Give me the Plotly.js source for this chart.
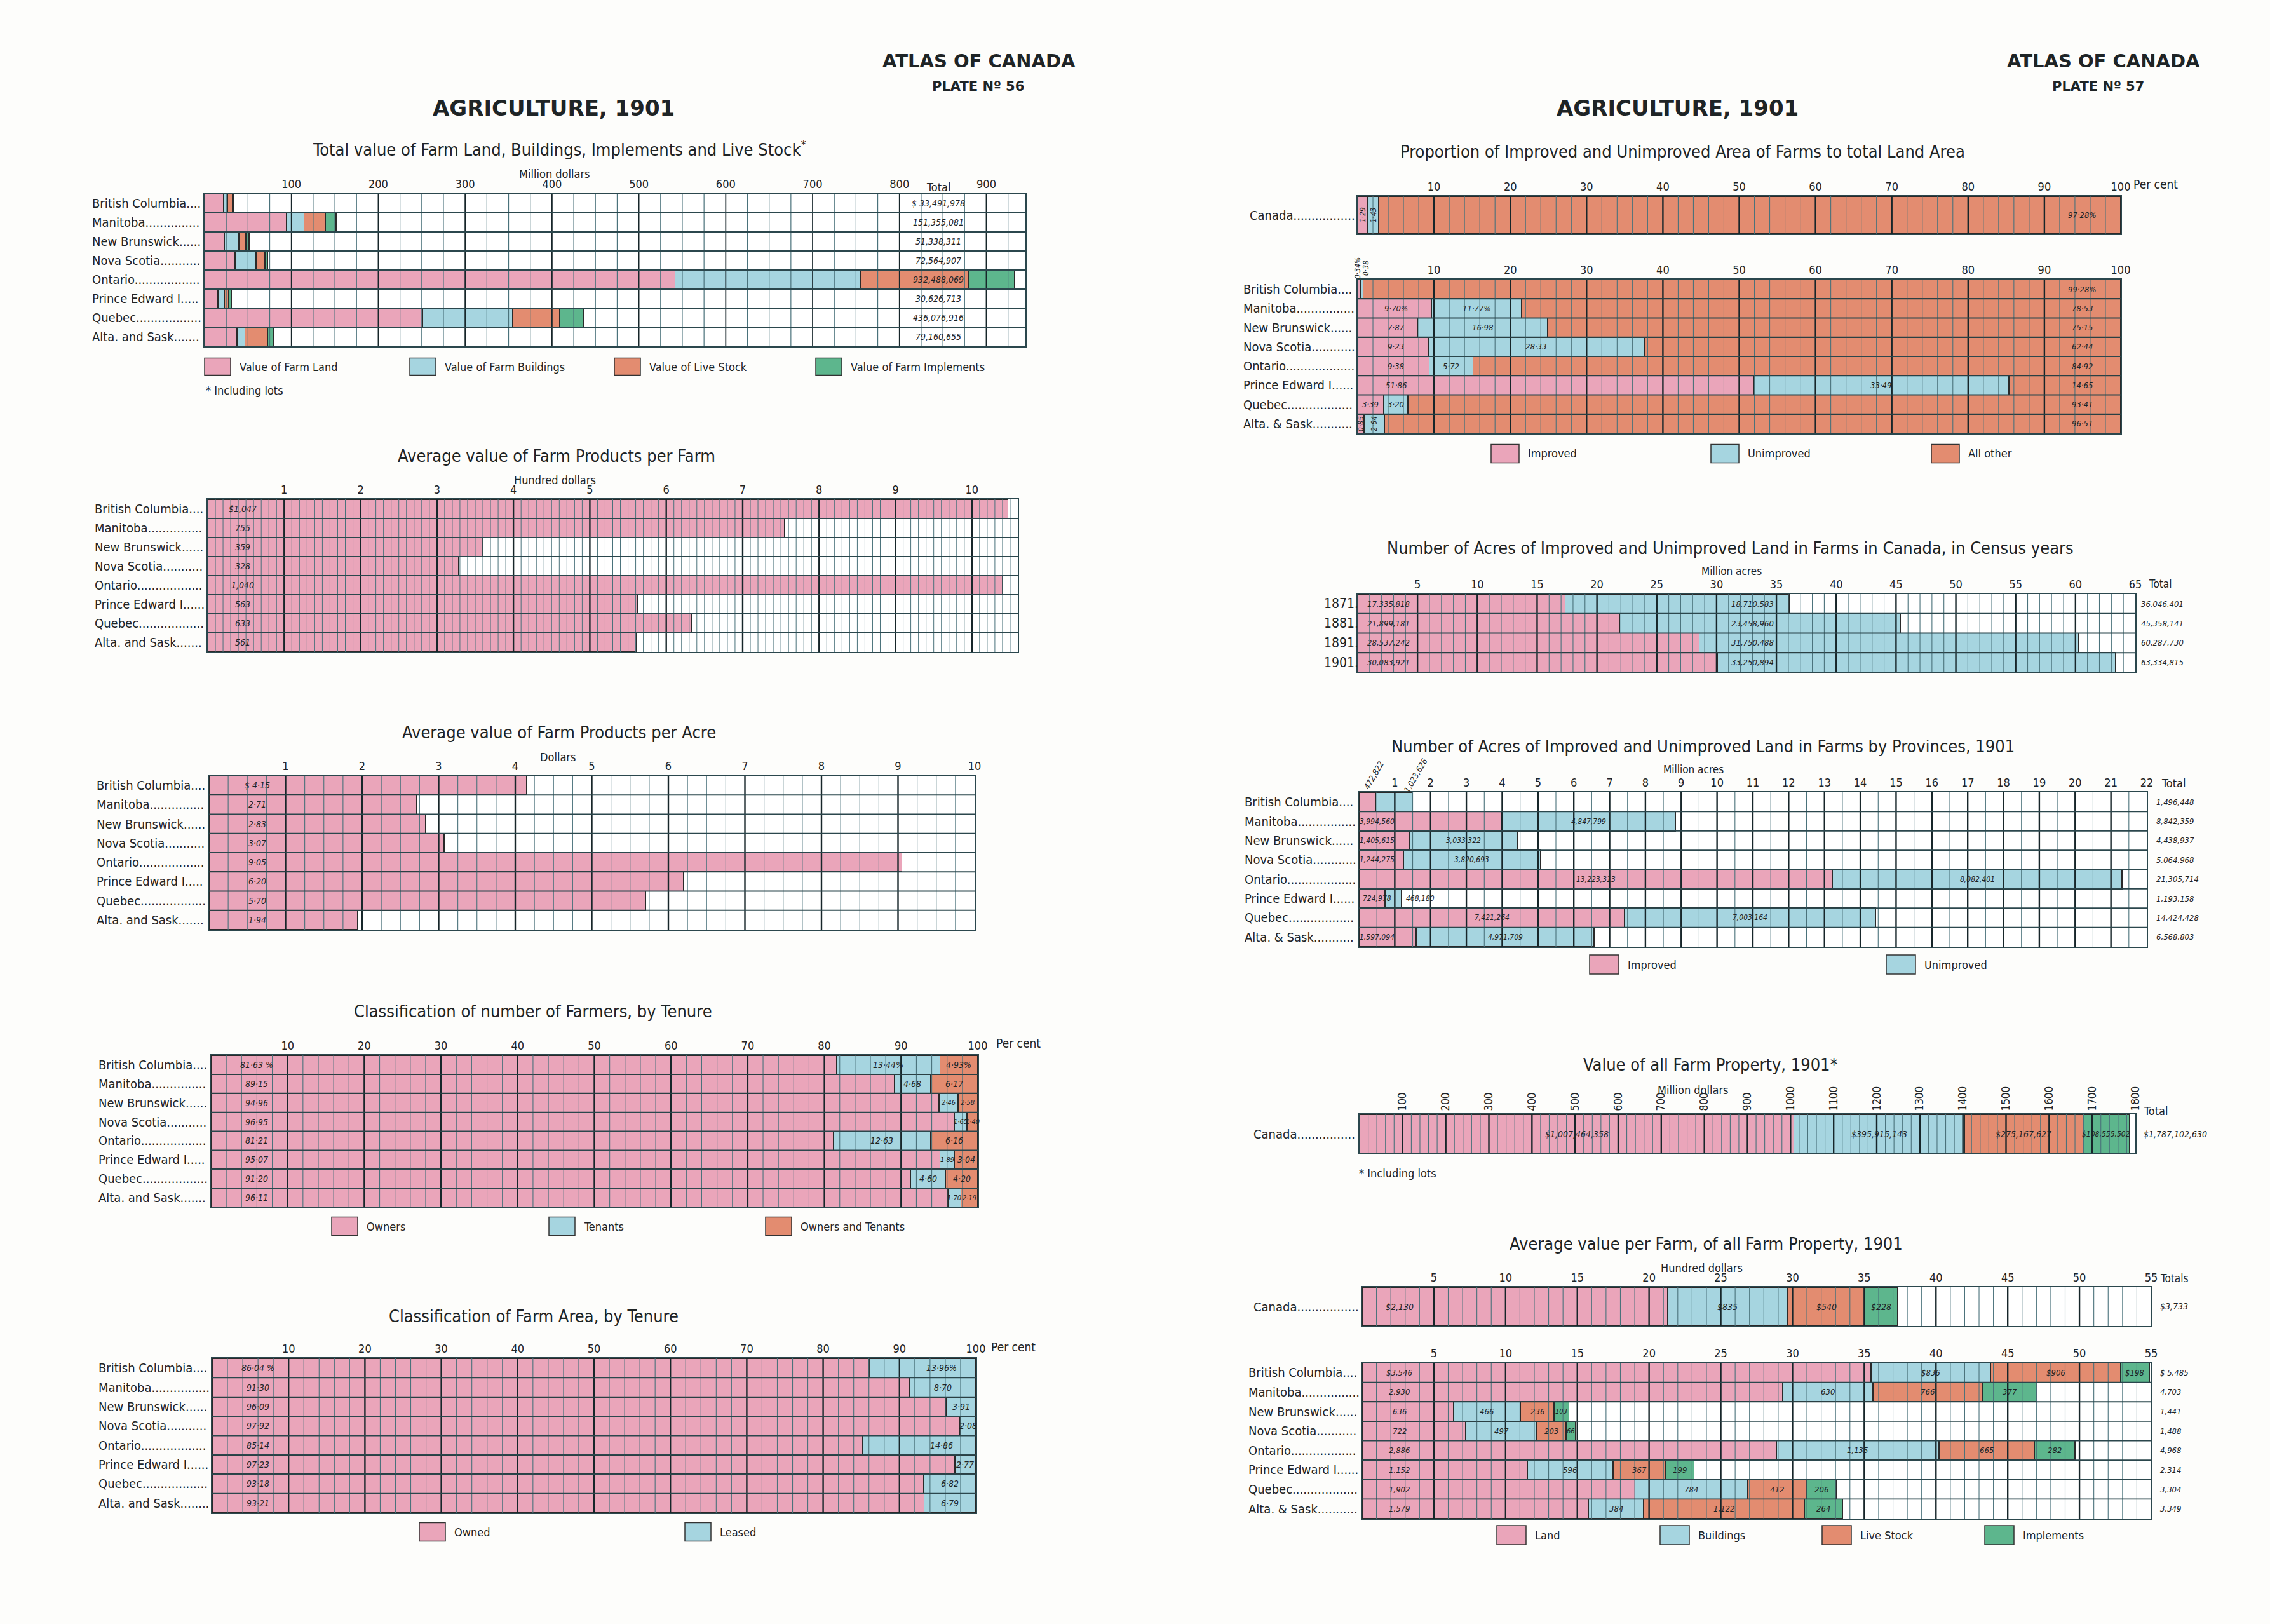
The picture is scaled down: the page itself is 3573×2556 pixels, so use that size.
<!DOCTYPE html>
<html><head><meta charset="utf-8">
<script src="https://cdn.plot.ly/plotly-3.0.1.min.js"></script>
<style>html,body{margin:0;padding:0;background:#fdfdfb;}#chart{width:3573px;height:2556px;}</style>
</head><body><div id="chart"></div>
<script>
// ================= DATA =================
const provincesL = ["British Columbia","Manitoba","New Brunswick","Nova Scotia","Ontario","Prince Edward I.","Quebec","Alta. and Sask."];
const provincesR = ["British Columbia","Manitoba","New Brunswick","Nova Scotia","Ontario","Prince Edward I.","Quebec","Alta. & Sask."];

// Total value of farm land, buildings, implements, live stock (million dollars)
const farmLandValue      = [21.6, 94.3, 22.7, 35.2, 541.7, 15.2, 251.0, 37.3];
const farmBuildingsValue = [5.1, 20.3, 16.6, 24.2, 213.0, 7.9, 103.5, 9.1];
const liveStockValue     = [5.5, 24.7, 8.4, 9.9, 124.8, 4.9, 54.4, 26.5];
const implementsValue    = [1.3, 12.1, 3.7, 3.2, 52.9, 2.6, 27.2, 6.2];
const totalFarmValue     = [33491978, 151355081, 51338311, 72564907, 932488069, 30626713, 436076916, 79160655];

// Average value of farm products (dollars)
const productsPerFarm = [1047, 755, 359, 328, 1040, 563, 633, 561];
const productsPerAcre = [4.15, 2.71, 2.83, 3.07, 9.05, 6.20, 5.70, 1.94];

// Tenure of farmers (per cent)
const farmersOwners        = [81.63, 89.15, 94.96, 96.95, 81.21, 95.07, 91.20, 96.11];
const farmersTenants       = [13.44, 4.68, 2.46, 1.65, 12.63, 1.89, 4.60, 1.70];
const farmersOwnersTenants = [4.93, 6.17, 2.58, 1.40, 6.16, 3.04, 4.20, 2.19];

// Tenure of farm area (per cent)
const areaOwned  = [86.04, 91.30, 96.09, 97.92, 85.14, 97.23, 93.18, 93.21];
const areaLeased = [13.96, 8.70, 3.91, 2.08, 14.86, 2.77, 6.82, 6.79];

// Proportion of improved / unimproved area to total land area (per cent)
const canadaProportion = [1.29, 1.43, 97.28];
const provImprovedPct   = [0.34, 9.70, 7.87, 9.23, 9.38, 51.86, 3.39, 0.85];
const provUnimprovedPct = [0.38, 11.77, 16.98, 28.33, 5.72, 33.49, 3.20, 2.64];
const provAllOtherPct   = [99.28, 78.53, 75.15, 62.44, 84.92, 14.65, 93.41, 96.51];

// Acres in census years
const censusYears = ["1871","1881","1891","1901"];
const censusImproved   = [17335818, 21899181, 28537242, 30083921];
const censusUnimproved = [18710583, 23458960, 31750488, 33250894];
const censusTotal      = [36046401, 45358141, 60287730, 63334815];

// Acres by provinces, 1901
const provImprovedAcres   = [472822, 3994560, 1405615, 1244275, 13223313, 724978, 7421264, 1597094];
const provUnimprovedAcres = [1023626, 4847799, 3033322, 3820693, 8082401, 468180, 7003164, 4971709];
const provTotalAcres      = [1496448, 8842359, 4438937, 5064968, 21305714, 1193158, 14424428, 6568803];

// Value of all farm property, Canada 1901 (dollars): land, buildings, live stock, implements
const canadaPropertyValue = [1007464358, 395915143, 275167627, 108555502];
const canadaPropertyTotal = 1787102630;

// Average value per farm (dollars)
const canadaAvgPerFarm = [2130, 835, 540, 228];
const canadaAvgTotal = 3733;
const avgLand       = [3546, 2930, 636, 722, 2886, 1152, 1902, 1579];
const avgBuildings  = [836, 630, 466, 497, 1135, 596, 784, 384];
const avgLiveStock  = [906, 766, 236, 203, 665, 367, 412, 1122];
const avgImplements = [198, 377, 103, 66, 282, 199, 206, 264];
const avgTotals     = [5485, 4703, 1441, 1488, 4968, 2314, 3304, 3349];

// ================= STYLE / HELPERS =================
const W = 3573, H = 2556;
const FONT = "'Liberation Sans Narrow','DejaVu Sans Condensed','Roboto Condensed','Liberation Sans',Arial,sans-serif";
const HEAD = "'DejaVu Sans','Liberation Sans',sans-serif";
const INK = '#1e2426';
const C = {pink:'#eaa5ba', blue:'#a6d5e0', orange:'#e38c70', green:'#5db68d'};
const GRID_MINOR = '#4a727b', GRID_MAJOR = '#17262a', ROWLINE = '#2b474d';

const data = [], annotations = [], shapes = [];
const layout = {width:W, height:H, margin:{l:0,r:0,t:0,b:0}, paper_bgcolor:'#fdfdfb', plot_bgcolor:'#ffffff',
  barmode:'stack', bargap:0, showlegend:false, font:{family:FONT,color:INK}, annotations, shapes};

const ctx = document.createElement('canvas').getContext('2d');
function measure(t, size){ ctx.font = size + 'px ' + FONT; return ctx.measureText(t).width; }
const fmt = v => Math.round(v).toLocaleString('en-US');
const dec = v => v.toFixed(2).replace('.', '·');

let axCount = 0;
function panel(cfg){
  axCount++;
  const s = axCount === 1 ? '' : String(axCount);
  layout['xaxis'+s] = {domain:[cfg.x0/W, cfg.x1/W], anchor:'y'+s, range:[0,cfg.range], side:'top',
    tickmode:'array', tickvals:cfg.tickvals, ticktext:cfg.tickvals.map(String), showgrid:false, zeroline:false,
    showline:true, mirror:true, linecolor:ROWLINE, linewidth:2, ticks:'', tickangle:cfg.tickangle||0,
    tickfont:{family:FONT, size:cfg.tickSize||18, color:INK}, fixedrange:true};
  layout['yaxis'+s] = {domain:[1-cfg.y1/H, 1-cfg.y0/H], anchor:'x'+s, range:[cfg.nrows-0.5,-0.5],
    showticklabels:false, showgrid:false, zeroline:false, showline:true, mirror:true, linecolor:ROWLINE,
    linewidth:2, fixedrange:true};
  const p = Object.assign({s, xa:'x'+s, ya:'y'+s}, cfg);
  grid(p);
  return p;
}
function grid(p){
  const n = Math.round(p.range / p.minor);
  const mx=[],my=[],Mx=[],My=[],rx=[],ry=[];
  for (let k=1; k<=n; k++){
    const v = +(k*p.minor).toFixed(6);
    if (v >= p.range - 1e-9) break;
    const r = v / p.major;
    const major = Math.abs(r - Math.round(r)) < 1e-6;
    (major?Mx:mx).push(v,v,null); (major?My:my).push(-0.5,p.nrows-0.5,null);
  }
  for (let k=1; k<p.nrows; k++){ rx.push(0,p.range,null); ry.push(k-0.5,k-0.5,null); }
  const base = {type:'scatter', mode:'lines', xaxis:p.xa, yaxis:p.ya, hoverinfo:'skip', showlegend:false, connectgaps:false};
  data.push(Object.assign({x:mx, y:my, line:{color:GRID_MINOR, width:p.minorW||1.1}}, base));
  data.push(Object.assign({x:Mx, y:My, line:{color:GRID_MAJOR, width:p.majorW||2.4}}, base));
  data.push(Object.assign({x:rx, y:ry, line:{color:ROWLINE, width:1.8}}, base));
}
function bars(p, values, color, scale){
  scale = scale || 1;
  data.push({type:'bar', orientation:'h', x:values.map(v=>v*scale), y:values.map((_,i)=>i),
    xaxis:p.xa, yaxis:p.ya, width:1, marker:{color, line:{color:'#2a2a2a', width:1.6}},
    hoverinfo:'skip', showlegend:false});
}
function pA(text, x, y, o){
  o = o || {};
  const font = Object.assign({family:FONT, size:20, color:INK}, o.font||{});
  annotations.push(Object.assign({xref:'paper', yref:'paper', x:x/W, y:1-y/H, text, showarrow:false,
    xanchor:'center', yanchor:'middle'}, o, {font}));
}
function dA(p, text, x, y, o){
  o = o || {};
  const font = Object.assign({family:FONT, size:15, color:INK, style:'italic'}, o.font||{});
  annotations.push(Object.assign({xref:p.xa, yref:p.ya, x, y, text, showarrow:false,
    xanchor:'center', yanchor:'middle'}, o, {font}));
}
function leaders(p, names, leftPx, size){
  size = size || 20;
  names.forEach((nm,i)=>{
    const w = measure(nm, size), dw = measure('.', size);
    const n = Math.max(1, Math.floor((p.x0 - 6 - leftPx - w) / dw));
    annotations.push({xref:'paper', yref:p.ya, x:leftPx/W, y:i, xanchor:'left', yanchor:'middle',
      text:nm + '.'.repeat(n), showarrow:false, font:{family:FONT, size, color:INK}});
  });
}
function legendItem(x0, yc, color, label, bw, bh){
  bw = bw || 42; bh = bh || 28;
  shapes.push({type:'rect', xref:'paper', yref:'paper', x0:x0/W, x1:(x0+bw)/W, y0:1-(yc+bh/2)/H, y1:1-(yc-bh/2)/H,
    fillcolor:color, line:{color:'#333', width:1.5}});
  pA(label, x0+bw+12, yc, {xanchor:'left', font:{size:18}});
}
const range = (a,b,st) => { const r=[]; for(let v=a; v<=b+1e-9; v+=st) r.push(+v.toFixed(6)); return r; };
function title(t, x, y){ pA(t, x, y, {font:{size:27}}); }

// ================= HEADERS =================
pA('<b>ATLAS OF CANADA</b>', 1541, 96, {font:{family:HEAD, size:29}});
pA('<b>PLATE Nº 56</b>', 1539, 136, {font:{family:HEAD, size:21}});
pA('<b>AGRICULTURE, 1901</b>', 871, 170, {font:{family:HEAD, size:34}});
pA('<b>ATLAS OF CANADA</b>', 3311, 96, {font:{family:HEAD, size:29}});
pA('<b>PLATE Nº 57</b>', 3302, 136, {font:{family:HEAD, size:21}});
pA('<b>AGRICULTURE, 1901</b>', 2640, 170, {font:{family:HEAD, size:34}});

// ================= P1: Total value =================
{
  const p = panel({x0:322, x1:1614, y0:305, y1:545, range:945, nrows:8, tickvals:range(100,900,100), minor:25, major:100, majorW:1.8, minorW:1.2});
  bars(p, farmLandValue, C.pink); bars(p, farmBuildingsValue, C.blue); bars(p, liveStockValue, C.orange); bars(p, implementsValue, C.green);
  title('Total value of Farm Land, Buildings, Implements and Live Stock<sup>*</sup>', 880, 233);
  pA('Million dollars', 873, 273, {font:{size:18}});
  pA('Total', 1477, 294, {font:{size:18}});
  totalFarmValue.forEach((v,i)=> dA(p, (i===0?'$ ':'') + fmt(v), 845, i, {font:{size:14}}));
  leaders(p, provincesL, 143);
  legendItem(322, 577, C.pink, 'Value of Farm Land', 41, 27);
  legendItem(645, 577, C.blue, 'Value of Farm Buildings', 41, 27);
  legendItem(967, 577, C.orange, 'Value of Live Stock', 41, 27);
  legendItem(1284, 577, C.green, 'Value of Farm Implements', 41, 27);
  pA('* Including lots', 322, 614, {xanchor:'left', font:{size:18}});
}

// ================= P2: per farm =================
{
  const p = panel({x0:327, x1:1602, y0:786, y1:1026, range:10.6, nrows:8, tickvals:range(1,10,1), minor:0.1, major:1, minorW:1});
  bars(p, productsPerFarm, C.pink, 0.01);
  title('Average value of Farm Products per Farm', 876, 717);
  pA('Hundred dollars', 873, 755, {font:{size:18}});
  productsPerFarm.forEach((v,i)=> dA(p, (i===0?'$':'') + fmt(v), 0.46, i, {font:{size:14}}));
  leaders(p, provincesL, 147);
}

// ================= P3: per acre =================
{
  const p = panel({x0:329, x1:1534, y0:1221, y1:1463, range:10, nrows:8, tickvals:range(1,10,1), minor:0.25, major:1});
  bars(p, productsPerAcre, C.pink);
  title('Average value of Farm Products per Acre', 880, 1152);
  pA('Dollars', 878, 1191, {font:{size:18}});
  productsPerAcre.forEach((v,i)=> dA(p, (i===0?'$ ':'') + dec(v), 0.63, i, {font:{size:14}}));
  leaders(p, provincesL, 150);
}

// ================= P4: farmers by tenure =================
{
  const p = panel({x0:332, x1:1539, y0:1661, y1:1900, range:100, nrows:8, tickvals:range(10,100,10), minor:2, major:10});
  bars(p, farmersOwners, C.pink); bars(p, farmersTenants, C.blue); bars(p, farmersOwnersTenants, C.orange);
  title('Classification of number of Farmers, by Tenure', 839, 1591);
  pA('Per cent', 1566, 1642, {xanchor:'left', font:{size:19}});
  farmersOwners.forEach((v,i)=> dA(p, dec(v) + (i===0?' %':''), 6, i, {font:{size:14}}));
  farmersTenants.forEach((v,i)=> dA(p, dec(v) + (i===0?'%':''), farmersOwners[i] + v/2, i, {font:{size: v<3?11:14}}));
  farmersOwnersTenants.forEach((v,i)=> dA(p, dec(v) + (i===0?'%':''), farmersOwners[i] + farmersTenants[i] + v/2, i, {font:{size: v<3?11:14}}));
  leaders(p, provincesL, 153);
  legendItem(522, 1930, C.pink, 'Owners', 41, 29);
  legendItem(864, 1930, C.blue, 'Tenants', 41, 29);
  legendItem(1205, 1930, C.orange, 'Owners and Tenants', 41, 29);
}

// ================= P5: farm area by tenure =================
{
  const p = panel({x0:334, x1:1536, y0:2138, y1:2381, range:100, nrows:8, tickvals:range(10,100,10), minor:2, major:10});
  bars(p, areaOwned, C.pink); bars(p, areaLeased, C.blue);
  title('Classification of Farm Area, by Tenure', 840, 2071);
  pA('Per cent', 1558, 2120, {xanchor:'left', font:{size:19}});
  areaOwned.forEach((v,i)=> dA(p, dec(v) + (i===0?' %':''), 6, i, {font:{size:14}}));
  areaLeased.forEach((v,i)=> dA(p, dec(v) + (i===0?'%':''), Math.max(areaOwned[i] + v/2, 95.5), i, {font:{size:14}}));
  leaders(p, provincesL, 153);
  legendItem(660, 2411, C.pink, 'Owned', 41, 29);
  legendItem(1078, 2411, C.blue, 'Leased', 41, 29);
}

// ================= P6: proportion =================
{
  const pa = panel({x0:2137, x1:3338, y0:309, y1:368, range:100, nrows:1, tickvals:range(10,100,10), minor:2, major:10});
  bars(pa, [canadaProportion[0]], C.pink); bars(pa, [canadaProportion[1]], C.blue); bars(pa, [canadaProportion[2]], C.orange);
  title('Proportion of Improved and Unimproved Area of Farms to total Land Area', 2648, 238);
  pA('Per cent', 3356, 290, {xanchor:'left', font:{size:19}});
  dA(pa, dec(canadaProportion[0]), canadaProportion[0]/2, 0, {textangle:-90, font:{size:12}});
  dA(pa, dec(canadaProportion[1]), canadaProportion[0] + canadaProportion[1]/2, 0, {textangle:-90, font:{size:12}});
  dA(pa, dec(canadaProportion[2]) + '%', 95, 0, {font:{size:13}});
  leaders(pa, ['Canada'], 1965);

  const p = panel({x0:2137, x1:3338, y0:440, y1:682, range:100, nrows:8, tickvals:range(10,100,10), minor:2, major:10});
  bars(p, provImprovedPct, C.pink); bars(p, provUnimprovedPct, C.blue); bars(p, provAllOtherPct, C.orange);
  provImprovedPct.forEach((v,i)=>{
    const u = provUnimprovedPct[i];
    if (i === 0){
      pA(dec(v)+'%', 2137, 422, {textangle:-90, font:{size:12, style:'italic'}});
      pA(dec(u), 2150, 422, {textangle:-90, font:{size:12, style:'italic'}});
      return;
    }
    if (v < 3) dA(p, dec(v), v/2, i, {textangle:-90, font:{size:12}});
    else dA(p, dec(v) + (i===1?'%':''), v > 6 ? 5 : v/2, i, {font:{size:13}});
    if (u < 3) dA(p, dec(u), v + u/2, i, {textangle:-90, font:{size:12}});
    else dA(p, dec(u) + (i===1?'%':''), v + u/2, i, {font:{size:13}});
  });
  provAllOtherPct.forEach((v,i)=> dA(p, dec(v) + (i===0?'%':''), 95, i, {font:{size:13}}));
  leaders(p, provincesR, 1955);
  legendItem(2347, 714, C.pink, 'Improved', 44, 29);
  legendItem(2693, 714, C.blue, 'Unimproved', 44, 29);
  legendItem(3040, 714, C.orange, 'All other', 44, 29);
}

// ================= P7: census years =================
{
  const p = panel({x0:2137, x1:3361, y0:935, y1:1058, range:65, nrows:4, tickvals:range(5,65,5), minor:1, major:5});
  bars(p, censusImproved, C.pink, 1e-6); bars(p, censusUnimproved, C.blue, 1e-6);
  title('Number of Acres of Improved and Unimproved Land in Farms in Canada, in Census years', 2723, 862);
  pA('Million acres', 2725, 899, {font:{size:17}});
  pA('Total', 3380, 919, {xanchor:'left', font:{size:17}});
  censusImproved.forEach((v,i)=> dA(p, fmt(v), 2.6, i, {font:{size:13}}));
  censusUnimproved.forEach((v,i)=> dA(p, fmt(v), 33, i, {font:{size:13}}));
  censusTotal.forEach((v,i)=> dA(p, fmt(v), 0, i, {xref:'paper', x:3368/W, xanchor:'left', font:{size:13}}));
  leaders(p, censusYears, 2082, 21);
}

// ================= P8: acres by provinces =================
{
  const p = panel({x0:2139, x1:3379, y0:1247, y1:1490, range:22, nrows:8, tickvals:range(1,22,1), minor:0.5, major:1});
  bars(p, provImprovedAcres, C.pink, 1e-6); bars(p, provUnimprovedAcres, C.blue, 1e-6);
  title('Number of Acres of Improved and Unimproved Land in Farms by Provinces, 1901', 2680, 1175);
  pA('Million acres', 2665, 1211, {font:{size:17}});
  pA('Total', 3400, 1232, {xanchor:'left', font:{size:18}});
  provImprovedAcres.forEach((v,i)=>{
    const a = v*1e-6, b = provUnimprovedAcres[i]*1e-6;
    if (i === 0){
      annotations.push({xref:p.xa, yref:'paper', x:0.41, y:1-1220/H, text:fmt(v), textangle:-60, showarrow:false, font:{family:FONT, size:13, color:INK, style:'italic'}});
      annotations.push({xref:p.xa, yref:'paper', x:1.58, y:1-1220/H, text:fmt(provUnimprovedAcres[i]), textangle:-60, showarrow:false, font:{family:FONT, size:13, color:INK, style:'italic'}});
      return;
    }
    dA(p, fmt(v), a > 5 ? a/2 : 0.5, i, {font:{size:12}});
    if (b < 1) dA(p, fmt(provUnimprovedAcres[i]), a + b + 0.08, i, {xanchor:'left', font:{size:12}});
    else dA(p, fmt(provUnimprovedAcres[i]), a + b/2, i, {font:{size:12}});
  });
  provTotalAcres.forEach((v,i)=> dA(p, fmt(v), 0, i, {xref:'paper', x:3392/W, xanchor:'left', font:{size:13}}));
  leaders(p, provincesR, 1957);
  legendItem(2502, 1518, C.pink, 'Improved', 46, 30);
  legendItem(2969, 1518, C.blue, 'Unimproved', 46, 30);
}

// ================= P9: value of all farm property =================
{
  const p = panel({x0:2140, x1:3361, y0:1754, y1:1815, range:1800, nrows:1, tickvals:range(100,1800,100), minor:20, major:100, tickangle:-90, tickSize:17});
  const cols = [C.pink, C.blue, C.orange, C.green];
  let cum = 0;
  canadaPropertyValue.forEach((v,k)=>{
    bars(p, [v], cols[k], 1e-6);
    dA(p, '$' + fmt(v), (cum + v/2)*1e-6, 0, {font:{size: k===3?12:14}});
    cum += v;
  });
  title('Value of all Farm Property, 1901*', 2692, 1675);
  pA('Million dollars', 2665, 1715, {font:{size:18}});
  pA('Total', 3372, 1748, {xanchor:'left', font:{size:18}});
  pA('$' + fmt(canadaPropertyTotal), 3372, 1785, {xanchor:'left', font:{size:14, style:'italic'}});
  leaders(p, ['Canada'], 1971);
  pA('* Including lots', 2137, 1846, {xanchor:'left', font:{size:18}});
}

// ================= P10: average value per farm =================
{
  const pa = panel({x0:2144, x1:3386, y0:2026, y1:2087, range:55, nrows:1, tickvals:range(5,55,5), minor:1, major:5});
  const cols = [C.pink, C.blue, C.orange, C.green];
  let cum = 0;
  canadaAvgPerFarm.forEach((v,k)=>{
    bars(pa, [v], cols[k], 0.01);
    dA(pa, '$' + fmt(v), k===0 ? 2.6 : (cum + v/2)/100, 0, {font:{size:14}});
    cum += v;
  });
  title('Average value per Farm, of all Farm Property, 1901', 2685, 1957);
  pA('Hundred dollars', 2678, 1995, {font:{size:18}});
  pA('Totals', 3398, 2012, {xanchor:'left', font:{size:17}});
  pA('$' + fmt(canadaAvgTotal), 3398, 2056, {xanchor:'left', font:{size:14, style:'italic'}});
  leaders(pa, ['Canada'], 1971);

  const p = panel({x0:2144, x1:3386, y0:2145, y1:2390, range:55, nrows:8, tickvals:range(5,55,5), minor:1, major:5});
  const series = [avgLand, avgBuildings, avgLiveStock, avgImplements];
  series.forEach((s,k)=> bars(p, s, cols[k], 0.01));
  provincesR.forEach((_,i)=>{
    let c = 0;
    series.forEach((s,k)=>{
      const v = s[i];
      dA(p, (i===0?'$':'') + fmt(v), k===0 ? 2.6 : (c + v/2)/100, i, {font:{size: v<120?11:13}});
      c += v;
    });
  });
  avgTotals.forEach((v,i)=> dA(p, (i===0?'$ ':'') + fmt(v), 0, i, {xref:'paper', x:3398/W, xanchor:'left', font:{size:13}}));
  leaders(p, provincesR, 1963);
  legendItem(2356, 2416, C.pink, 'Land', 46, 30);
  legendItem(2613, 2416, C.blue, 'Buildings', 46, 30);
  legendItem(2868, 2416, C.orange, 'Live Stock', 46, 30);
  legendItem(3124, 2416, C.green, 'Implements', 46, 30);
}

Plotly.newPlot('chart', data, layout, {staticPlot:true, displayModeBar:false});
</script>
</body></html>
